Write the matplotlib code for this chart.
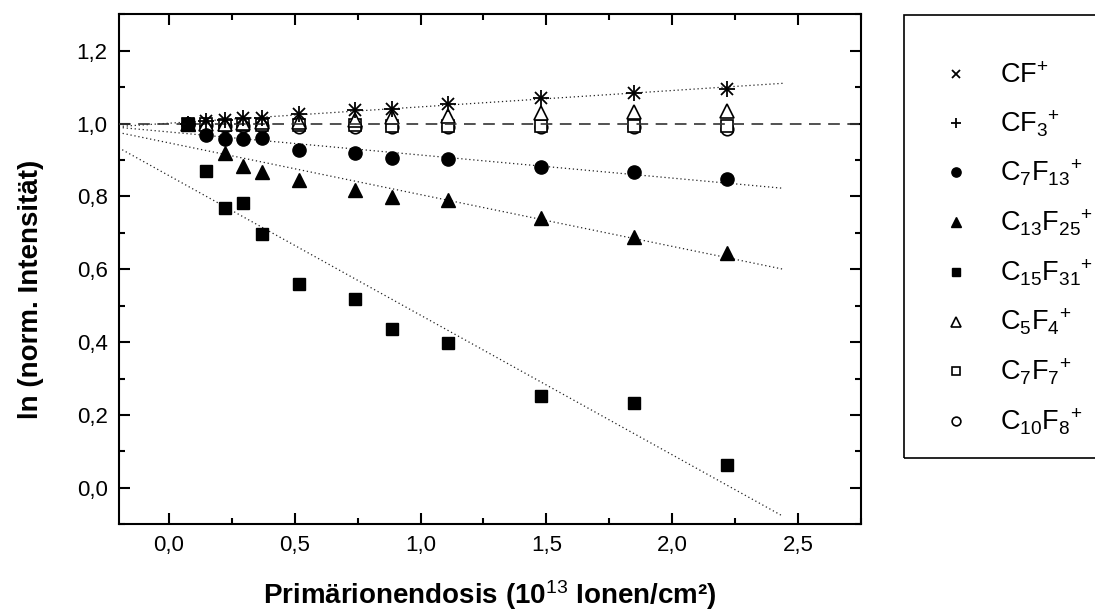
import matplotlib
matplotlib.use('Agg')
import matplotlib.pyplot as plt
import numpy as np
from matplotlib.ticker import MultipleLocator, FuncFormatter
from matplotlib.patches import Rectangle

plt.rcParams['font.family'] = ['Liberation Sans', 'DejaVu Sans']
plt.rcParams['mathtext.fontset'] = 'custom'
plt.rcParams['mathtext.rm'] = 'Liberation Sans'
plt.rcParams['mathtext.it'] = 'Liberation Sans:italic'
plt.rcParams['mathtext.bf'] = 'Liberation Sans:bold'

# ---------------- data ----------------
dose = [0.074, 0.148, 0.222, 0.296, 0.370, 0.518, 0.740, 0.888, 1.110, 1.480, 1.850, 2.220]

cf_plus   = [1.000, 1.006, 1.009, 1.014, 1.016, 1.025, 1.036, 1.041, 1.055, 1.070, 1.085, 1.096]
cf3_plus  = [1.000, 1.006, 1.009, 1.014, 1.016, 1.025, 1.036, 1.041, 1.055, 1.070, 1.085, 1.096]
c7f13     = [1.000, 0.968, 0.957, 0.957, 0.960, 0.927, 0.919, 0.906, 0.904, 0.881, 0.866, 0.847]
c13f25    = [1.000, np.nan, 0.918, 0.883, 0.867, 0.846, 0.819, 0.799, 0.790, 0.740, 0.690, 0.645]
c15f31    = [1.000, 0.869, 0.767, 0.783, 0.696, 0.561, 0.518, 0.435, 0.397, 0.253, 0.232, 0.063]
c5f4      = [1.000, 1.000, 1.000, 1.002, 1.003, 1.005, 1.011, 1.019, 1.021, 1.028, 1.032, 1.035]
c7f7      = [1.000, 0.998, 0.997, 0.997, 0.996, 0.995, 0.995, 0.994, 0.994, 0.993, 0.993, 0.993]
c10f8     = [1.000, 0.996, 0.993, 0.993, 0.993, 0.992, 0.992, 0.991, 0.991, 0.991, 0.990, 0.986]

labels = [r'CF$^{+}$', r'CF$_{3}{}^{+}$', r'C$_{7}$F$_{13}{}^{+}$', r'C$_{13}$F$_{25}{}^{+}$',
          r'C$_{15}$F$_{31}{}^{+}$', r'C$_{5}$F$_{4}{}^{+}$', r'C$_{7}$F$_{7}{}^{+}$',
          r'C$_{10}$F$_{8}{}^{+}$']

# linear fits (slope, intercept)
fit_slope     = [0.0449, -0.0633, -0.142, -0.383]
fit_intercept = [1.001, 0.977, 0.947, 0.857]
fit_range     = [-0.2, 2.44]
reference_level = 1.0

xticks = [0.0, 0.5, 1.0, 1.5, 2.0, 2.5]
yticks = [0.0, 0.2, 0.4, 0.6, 0.8, 1.0, 1.2]

# ---------------- figure ----------------
W, H = 1095, 614
fig = plt.figure(figsize=(W / 100, H / 100), dpi=100)
ax = fig.add_axes([118.7 / W, 1 - 524.3 / H, (860.7 - 118.7) / W, (524.3 - 14.3) / H])

ax.set_xlim(-0.2, 2.75)
ax.set_ylim(-0.1, 1.3)

# reference dashed line
ax.axhline(reference_level, ls=(0, (7, 4.5)), color='#333333', lw=1.2, zorder=8)

# fit lines
xs = np.array(fit_range)
for s, b in zip(fit_slope, fit_intercept):
    ax.plot(xs, b + s * xs, ls=(0, (1, 2.2)), color='#222222', lw=0.9, zorder=2)

series = [cf_plus, cf3_plus, c7f13, c13f25, c15f31, c5f4, c7f7, c10f8]
styles = [
    dict(marker='x', ms=9, mew=1.3, color='k', zorder=9),
    dict(marker='+', ms=11, mew=1.3, color='k', zorder=9),
    dict(marker='o', ms=9.5, color='k', mfc='k', zorder=6),
    dict(marker='^', ms=10, color='k', mfc='k', zorder=6),
    dict(marker='s', ms=8.5, color='k', mfc='k', zorder=6),
    dict(marker='^', ms=10, color='k', mfc='white', mew=1.2, zorder=5),
    dict(marker='s', ms=8.5, color='k', mfc='white', mew=1.2, zorder=4),
    dict(marker='o', ms=9, color='k', mfc='white', mew=1.2, zorder=3),
]
handles = []
for vals, st, lab in zip(series, styles, labels):
    h, = ax.plot(dose, vals, ls='none', label=lab, **st)
    handles.append(h)

# axes styling
for sp in ax.spines.values():
    sp.set_linewidth(1.5)
ax.xaxis.set_major_locator(MultipleLocator(0.5))
ax.xaxis.set_minor_locator(MultipleLocator(0.25))
ax.yaxis.set_major_locator(MultipleLocator(0.2))
ax.yaxis.set_minor_locator(MultipleLocator(0.1))
ax.set_xticks(xticks)
ax.set_yticks(yticks)
fmt = FuncFormatter(lambda v, p: f'{v:.1f}'.replace('.', ',').replace('-0,0', '0,0'))
ax.xaxis.set_major_formatter(fmt)
ax.yaxis.set_major_formatter(fmt)
ax.tick_params(which='both', direction='in', top=True, right=True, width=1.5, labelsize=16, pad=8)
ax.tick_params(which='major', length=8)
ax.tick_params(which='minor', length=4.5)

ax.set_xlabel(r'Primärionendosis (10$^{13}$ Ionen/cm²)', fontsize=20, fontweight='bold')
ax.set_ylabel('ln (norm. Intensität)', fontsize=20, fontweight='bold')
ax.xaxis.set_label_coords(0.5, -0.105)
ax.yaxis.set_label_coords(-0.1, 0.46)

# legend box and legend
fig.patches.append(Rectangle((904 / W, 1 - 458 / H), (1110 - 904) / W, (458 - 15) / H,
                             transform=fig.transFigure, fill=False, lw=1.2, ec='k'))
leg = fig.legend(handles, labels, loc='upper left', bbox_to_anchor=(942 / W, 1 - 63 / H),
                 frameon=False, fontsize=19.5, markerscale=0.7, handlelength=1.0,
                 handletextpad=1.15, labelspacing=0.72, borderpad=0, borderaxespad=0)

fig.savefig('out.png', dpi=100)
